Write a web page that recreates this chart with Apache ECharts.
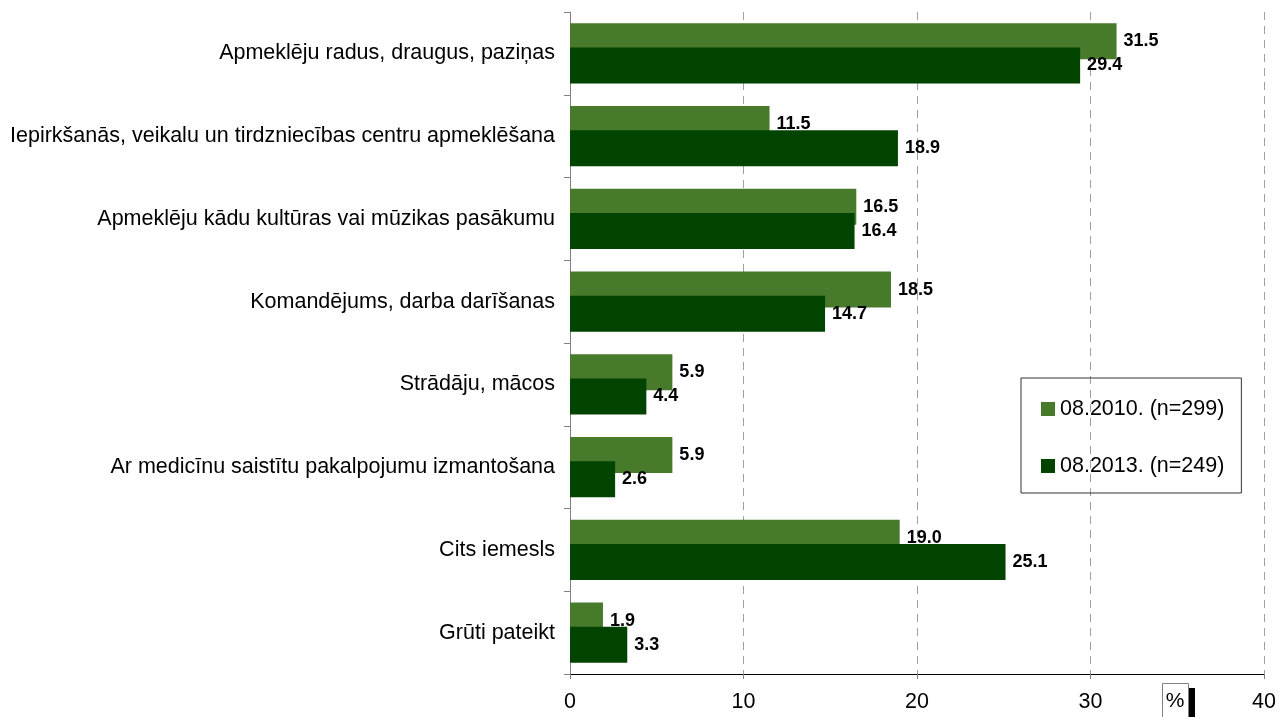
<!DOCTYPE html>
<html>
<head>
<meta charset="utf-8">
<script src="https://cdn.jsdelivr.net/npm/echarts@6/dist/echarts.min.js"></script>
<style>
  html, body { margin: 0; padding: 0; background: #fff; }
  #chart { width: 1279px; height: 717px; }
</style>
</head>
<body>
<div id="chart"></div>
<script>
// kategorijas (no augšas uz leju)
const categories = [
  "Apmeklēju radus, draugus, paziņas",
  "Iepirkšanās, veikalu un tirdzniecības centru apmeklēšana",
  "Apmeklēju kādu kultūras vai mūzikas pasākumu",
  "Komandējums, darba darīšanas",
  "Strādāju, mācos",
  "Ar medicīnu saistītu pakalpojumu izmantošana",
  "Cits iemesls",
  "Grūti pateikt"
];
const seriesNames = ["08.2010. (n=299)", "08.2013. (n=249)"];
const values2010 = [31.5, 11.5, 16.5, 18.5, 5.9, 5.9, 19.0, 1.9];
const values2013 = [29.4, 18.9, 16.4, 14.7, 4.4, 2.6, 25.1, 3.3];
const xTicks = [0, 10, 20, 30, 40];

const chart = echarts.init(document.getElementById("chart"));
const font = "Liberation Sans, Arial, sans-serif";

const labelStyle = {
  show: true,
  position: "right",
  distance: 7,
  color: "#000",
  fontFamily: font,
  fontSize: 18,
  fontWeight: "bold",
  formatter: (p) => p.value.toFixed(1)
};

const option = {
  animation: false,
  backgroundColor: "#fff",
  grid: { left: 570, right: 12, top: 12, bottom: 43 },
  legend: {
    orient: "vertical",
    left: 1021,
    top: 378,
    padding: [20, 17, 16, 20],
    itemGap: 35,
    itemWidth: 14,
    itemHeight: 14,
    icon: "rect",
    borderColor: "#333",
    borderWidth: 1,
    textStyle: { fontFamily: font, fontSize: 21.5, color: "#000" },
    data: seriesNames
  },
  xAxis: {
    type: "value",
    min: xTicks[0],
    max: xTicks[xTicks.length - 1],
    interval: 10,
    axisLine: { show: true, lineStyle: { color: "#000", width: 1 } },
    axisTick: { show: true, length: 5, lineStyle: { color: "#808080" } },
    axisLabel: { fontFamily: font, fontSize: 21.5, color: "#000", margin: 17 },
    splitLine: {
      show: true,
      lineStyle: { color: "#a0a0a0", type: [8, 6], width: 1 }
    }
  },
  yAxis: {
    type: "category",
    inverse: true,
    data: categories,
    axisLine: { show: true, lineStyle: { color: "#808080", width: 1 } },
    axisTick: { show: true, length: 6, lineStyle: { color: "#808080" } },
    axisLabel: { fontFamily: font, fontSize: 21.5, color: "#000", margin: 15 }
  },
  series: [
    {
      name: seriesNames[0],
      type: "bar",
      data: values2010,
      barWidth: 36,
      barGap: "-33%",
      itemStyle: { color: "#487a2c" },
      label: labelStyle
    },
    {
      name: seriesNames[1],
      type: "bar",
      data: values2013,
      barWidth: 36,
      barGap: "-33%",
      itemStyle: { color: "#004400" },
      label: labelStyle
    }
  ],
  graphic: [
    {
      type: "rect",
      shape: { x: 1162.5, y: 683.5, width: 26, height: 40 },
      style: { fill: "#fff", stroke: "#808080", lineWidth: 1 }
    },
    {
      type: "rect",
      shape: { x: 1189, y: 688, width: 6, height: 30 },
      style: { fill: "#000" }
    },
    {
      type: "text",
      x: 1175,
      y: 701,
      style: {
        text: "%",
        fill: "#000",
        font: "21px " + font,
        align: "center",
        verticalAlign: "middle"
      }
    }
  ]
};

chart.setOption(option);
</script>
</body>
</html>
